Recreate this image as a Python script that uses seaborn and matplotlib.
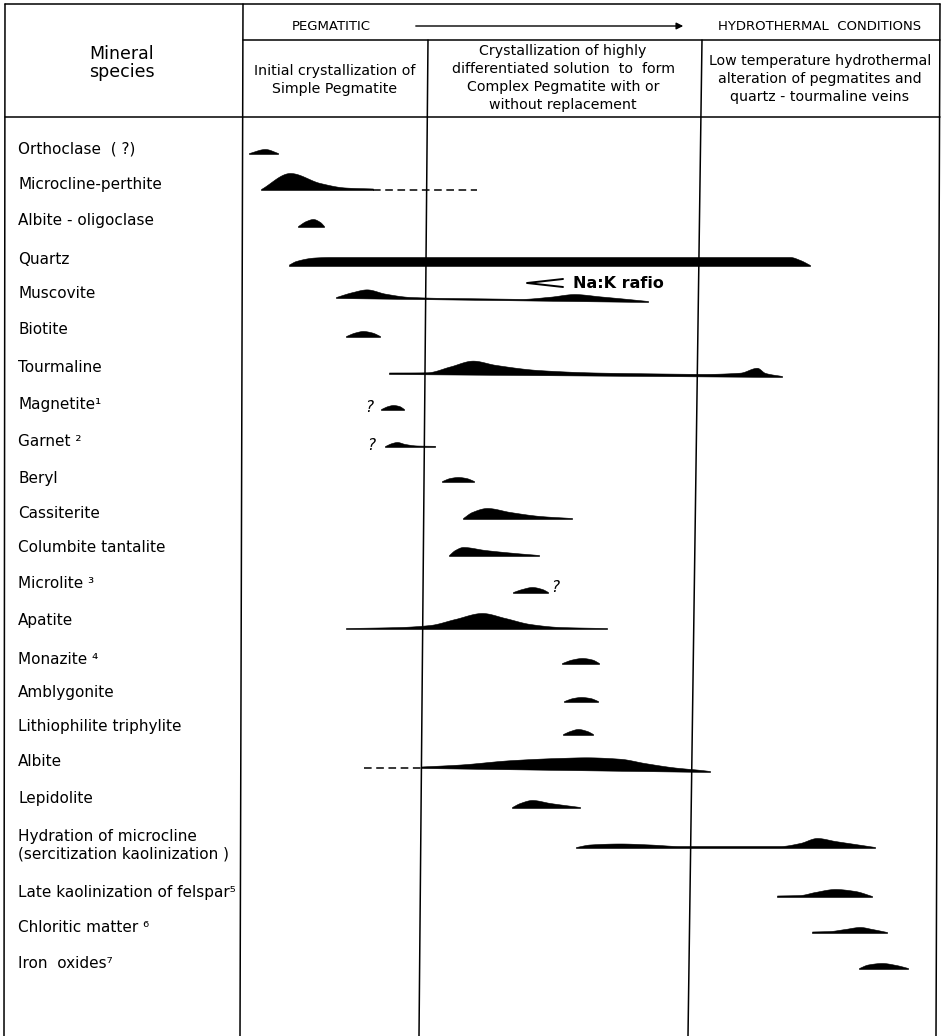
import numpy as np
import matplotlib
matplotlib.use("Agg")
import matplotlib.pyplot as plt
import seaborn as sns

# Paragenetic sequence of the pegmatite minerals (positions, px)

minerals = ["Orthoclase  ( ?)", "Microcline-perthite", "Albite - oligoclase", "Quartz",
            "Muscovite", "Biotite", "Tourmaline", "Magnetite\u00b9", "Garnet \u00b2", "Beryl",
            "Cassiterite", "Columbite tantalite", "Microlite \u00b3", "Apatite", "Monazite \u2074",
            "Amblygonite", "Lithiophilite triphylite", "Albite", "Lepidolite",
            "Hydration of microcline\n(sercitization kaolinization )",
            "Late kaolinization of felspar\u2075", "Chloritic matter \u2076", "Iron  oxides\u2077"]
label_y = [149, 184, 220, 259, 294, 330, 367, 405, 441, 478, 514, 547, 584, 621, 659,
           692, 727, 761, 799, 845, 893, 927, 963]

# baseline of each band and how much it sinks from left end to right end
base_y = [154, 190, 227, 266, 298, 337, 374, 410, 447, 482, 519, 556, 593, 629, 664,
          702, 735, 768, 808, 848, 897, 933, 969]
base_tilt = [0, 0, 0, 0, 4, 0, 3, 0, 0, 0, 0, 0, 0, 0, 0, 0, 0, 4, 0, 0, 0, 0, 0]

# outline of each band: x positions and thickness at those positions
band_x = [
    [249, 265, 278],
    [261, 290, 320, 345, 373],
    [298, 306, 313, 320, 324],
    [289, 296, 315, 330, 790, 800, 810],
    [336, 352, 367, 385, 410, 440, 520, 550, 575, 600, 625, 648],
    [346, 355, 363, 372, 380],
    [389, 427, 450, 473, 495, 540, 600, 700, 740, 757, 765, 782],
    [381, 388, 393, 399, 404],
    [385, 392, 397, 405, 417, 435],
    [442, 450, 458, 466, 474],
    [463, 472, 487, 510, 540, 572],
    [449, 455, 463, 485, 515, 539],
    [513, 522, 532, 542, 548],
    [346, 400, 430, 455, 482, 505, 530, 560, 607],
    [562, 572, 582, 592, 599],
    [564, 573, 581, 590, 598],
    [563, 570, 578, 587, 593],
    [421, 460, 510, 560, 590, 620, 645, 675, 700, 710],
    [512, 520, 532, 550, 580],
    [576, 590, 620, 650, 680, 780, 800, 817, 835, 855, 875],
    [777, 800, 815, 835, 855, 872],
    [812, 830, 845, 860, 872, 887],
    [859, 868, 882, 896, 908],
]
band_t = [
    [1, 5, 1],
    [1, 17, 7, 2.5, 1.5],
    [1, 6, 8, 5, 1],
    [1.5, 5, 8.5, 9, 9, 6, 1],
    [1, 6, 9, 5, 2, 1.5, 1.5, 4, 7, 5, 3, 1],
    [1, 4.5, 6, 4.5, 1],
    [1.5, 2, 8, 14, 10, 5, 3, 2.5, 4, 9, 4, 1],
    [1, 4, 5, 4, 1],
    [1, 4, 5, 3, 1.5, 1.2],
    [1, 4, 5, 4, 1],
    [1, 7, 11, 7, 3, 1],
    [1, 6, 9, 6, 3, 1],
    [1, 4, 6, 4, 1],
    [1, 2, 4, 10, 16, 11, 5, 2, 1],
    [1, 4.5, 6, 4.5, 1],
    [1, 4, 5, 4, 1],
    [1, 4, 6, 4, 1],
    [1.5, 4, 9, 12, 13, 12, 8, 4, 2, 1],
    [1, 5, 8, 5, 1],
    [1, 3.5, 4.5, 3.5, 2, 2, 5, 10, 7, 4, 1],
    [1.5, 2, 5, 8, 6, 1],
    [1.5, 2, 4, 6, 4, 1],
    [1, 4.5, 6, 4, 1],
]

# dashed extensions (uncertain ranges)
dash_from = [373, 364]
dash_to = [477, 421]
dash_y = [190, 768]

# question marks
q_x = [369, 371, 555]
q_y = [407, 446, 587]

stage_titles = ["Initial crystallization of\nSimple Pegmatite",
                "Crystallization of highly\ndifferentiated solution  to  form\nComplex Pegmatite with or\nwithout replacement",
                "Low temperature hydrothermal\nalteration of pegmatites and\nquartz - tourmaline veins"]
stage_x = [335, 563, 820]
stage_y = [80, 78, 79]


def pchip(xs, ts, xg):
    # monotone cubic through the read points, so the humps stay round
    xs = np.asarray(xs, float)
    ts = np.asarray(ts, float)
    h = np.diff(xs)
    d = np.diff(ts) / h
    m = np.zeros_like(ts)
    for i in range(1, len(xs) - 1):
        if d[i - 1] * d[i] > 0:
            w1 = 2 * h[i] + h[i - 1]
            w2 = h[i] + 2 * h[i - 1]
            m[i] = (w1 + w2) / (w1 / d[i - 1] + w2 / d[i])
    m[0] = d[0]
    m[-1] = d[-1]
    idx = np.clip(np.searchsorted(xs, xg) - 1, 0, len(h) - 1)
    u = (xg - xs[idx]) / h[idx]
    h00 = 2 * u**3 - 3 * u**2 + 1
    h10 = u**3 - 2 * u**2 + u
    h01 = -2 * u**3 + 3 * u**2
    h11 = u**3 - u**2
    return (h00 * ts[idx] + h10 * h[idx] * m[idx]
            + h01 * ts[idx + 1] + h11 * h[idx] * m[idx + 1])


sns.set_theme(style="white")
plt.rcParams["font.family"] = ["DejaVu Sans"]
plt.rcParams["text.color"] = "black"

fig = plt.figure(figsize=(9.42, 10.36), dpi=100)
ax = fig.add_axes([0, 0, 1, 1])
ax.set_xlim(0, 942)
ax.set_ylim(1036, 0)
ax.axis("off")

# table grid (slightly skewed like the scanned page)
lw = 1.1
ax.plot([5, 4], [4, 1036], color="black", lw=lw)
ax.plot([243, 240], [4, 1036], color="black", lw=lw)
ax.plot([940, 936], [4, 1036], color="black", lw=lw)
ax.plot([428, 419], [40, 1036], color="black", lw=lw)
ax.plot([702, 688], [40, 1036], color="black", lw=lw)
ax.plot([5, 940], [4, 4], color="black", lw=lw)
ax.plot([243, 940], [40, 40], color="black", lw=lw)
ax.plot([5, 940], [117, 117], color="black", lw=lw)

# header
ax.text(331, 26, "PEGMATITIC", fontsize=9.5, ha="center", va="center")
ax.text(820, 26, "HYDROTHERMAL  CONDITIONS", fontsize=9.5, ha="center", va="center")
ax.annotate("", xy=(686, 26), xytext=(413, 26),
            arrowprops=dict(arrowstyle="-|>", color="black", lw=1.0, mutation_scale=10))
ax.text(122, 63, "Mineral\nspecies", fontsize=12.5, ha="center", va="center", linespacing=1.05)
for title, sx, sy in zip(stage_titles, stage_x, stage_y):
    ax.text(sx, sy, title, fontsize=10.2, ha="center", va="center", linespacing=1.35)

# mineral names
for name, ly in zip(minerals, label_y):
    ax.text(18, ly, name, fontsize=11, ha="left", va="center", linespacing=1.25)

# bands
for xs, ts, b, tilt in zip(band_x, band_t, base_y, base_tilt):
    xg = np.arange(xs[0], xs[-1] + 0.25, 0.25)
    tg = pchip(xs, ts, xg)
    bl = b + tilt * (xg - xg[0]) / (xg[-1] - xg[0])
    ax.fill_between(xg, bl, bl - tg, color="black", lw=0.4, edgecolor="black")

for x0, x1, y in zip(dash_from, dash_to, dash_y):
    sns.lineplot(x=[x0, x1], y=[y, y], ax=ax, color="black", lw=1.1,
                 linestyle=(0, (5, 3)), legend=False)

for qx, qy in zip(q_x, q_y):
    ax.text(qx, qy, "?", fontsize=11, ha="center", va="center", style="italic")

# Na:K ratio note
ax.plot([563, 527, 563], [279, 283, 287], color="black", lw=1.4)
ax.text(573, 283, "Na:K rafio", fontsize=11.5, fontweight="bold", ha="left", va="center")

fig.savefig("out.png", dpi=100)
